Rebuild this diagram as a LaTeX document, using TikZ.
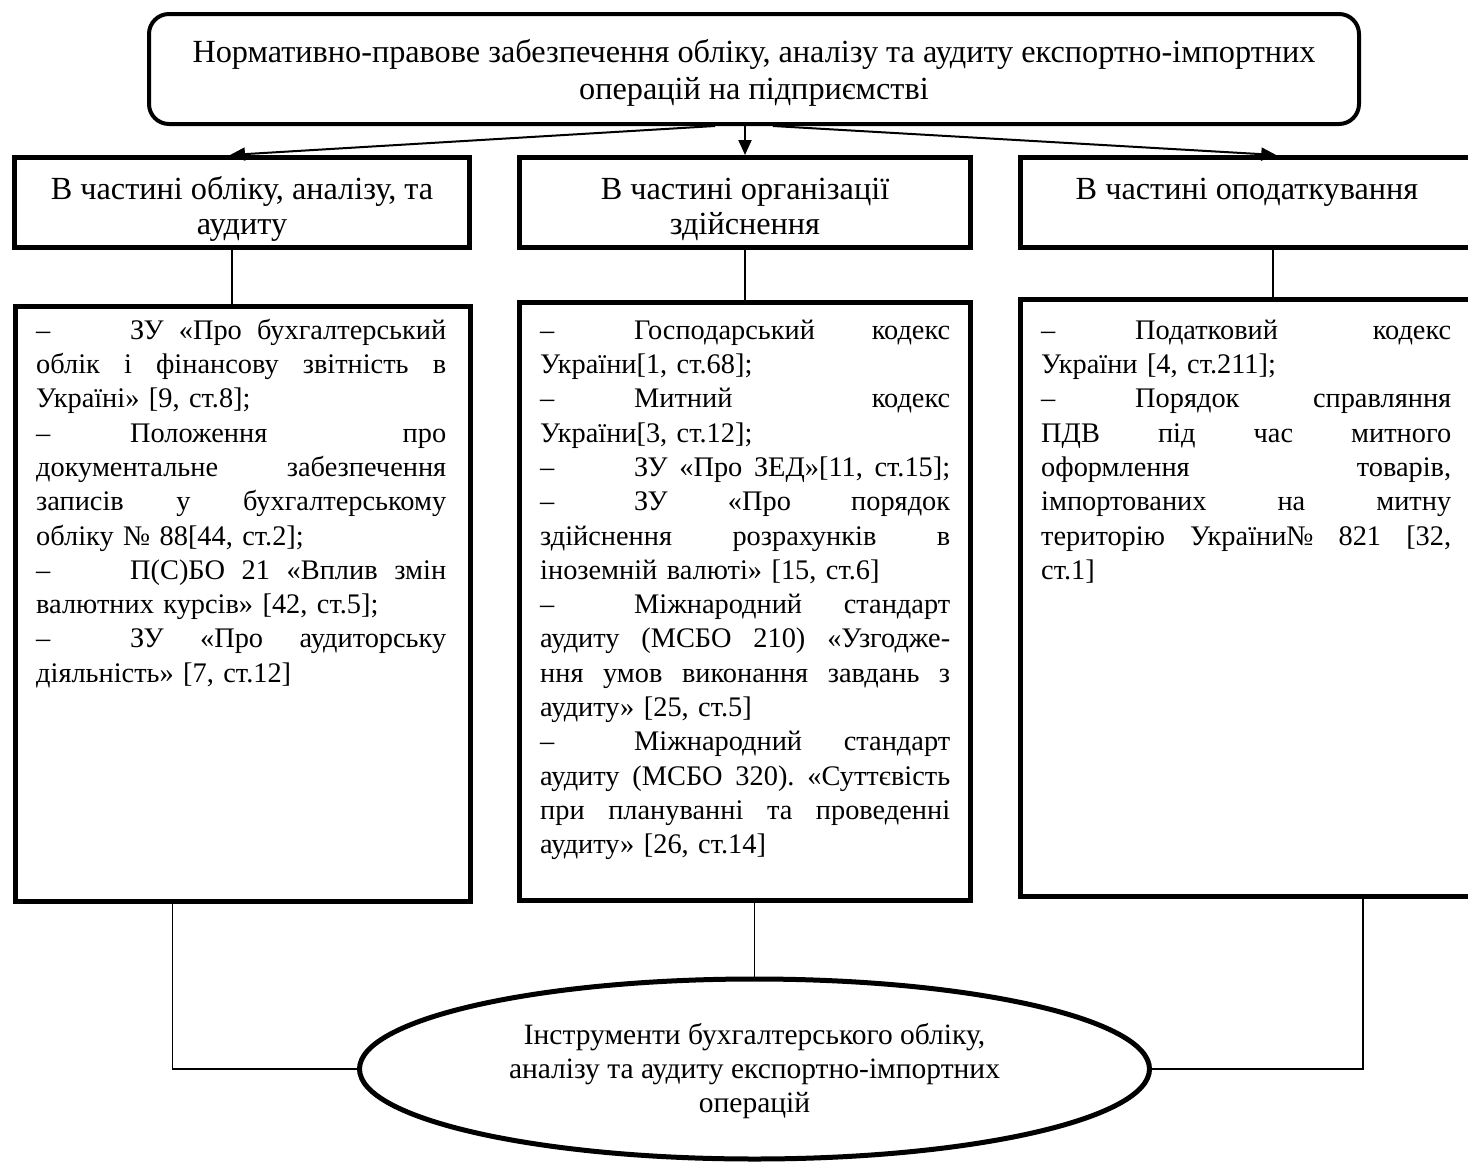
\documentclass[tikz,border=0pt]{standalone}
\usepackage{fontspec}
\setmainfont{Liberation Serif}
\usetikzlibrary{arrows.meta,shapes.geometric}
\newlength\calw
\newlength\calwa
\newlength\calwb
\newcommand\jl[1]{\leavevmode\hbox to 410pt{\spaceskip=0.25em plus 1fil minus 0.06em\relax #1}}
\newcommand\dsh{\makebox[94pt][l]{–}}
\newcommand\fnt[1]{\fontsize{\fs pt}{#1}\selectfont}
\newcommand\bfnt[1]{\fontsize{\bs pt}{#1}\selectfont}
\newcommand\efnt[1]{\fontsize{\es pt}{#1}\selectfont}
\begin{document}
\frenchspacing
\settowidth\calw{\fontsize{10pt}{12pt}\selectfont Нормативно-правове забезпечення обліку, аналізу та аудиту експортно-імпортних}%
\settowidth\calwa{\fontsize{10pt}{12pt}\selectfont України [4, ст.211];}%
\settowidth\calwb{\fontsize{10pt}{12pt}\selectfont аудиту (МСБО 320). «Суттєвість}%
\pgfmathsetmacro\fs{10*1123/\calw}%
\pgfmathsetmacro\bs{min(10*230/\calwa, 10*411/\calwb)}%
\settowidth\calw{\fontsize{10pt}{12pt}\selectfont аналізу та аудиту експортно-імпортних}%
\pgfmathsetmacro\es{10*491/\calw}%
\begin{tikzpicture}[x=1pt,y=-1pt,
  thickbox/.style={draw, line width=5pt, inner sep=0pt},
  conn/.style={line width=1.7pt},
  arr/.style={line width=2pt, -{Triangle[length=15pt,width=13pt]}},
  txt/.style={inner sep=0pt, align=center},
  body/.style={inner sep=0pt, text width=410pt, align=left, anchor=north west, font=\bfnt{34.3pt}},
]
\useasboundingbox (0,0) rectangle (1468,1162);

% top box
\node[draw, line width=4pt, rounded corners=20pt, minimum width=1210pt, minimum height=110pt, inner sep=0pt] (T) at (754,69) {};
\node[txt, anchor=north, font=\fnt{37pt}] (Tt) at (754,36.1) {\strut Нормативно-правове забезпечення обліку, аналізу та аудиту експортно-імпортних\\ операцій на підприємстві};

% header boxes
\node[thickbox, minimum width=455pt, minimum height=90pt] (H1) at (242,202.5) {};
\node[thickbox, minimum width=451pt, minimum height=90pt] (H2) at (745,202.5) {};
\node[thickbox, minimum width=469.5pt, minimum height=90pt] (H3) at (1255.25,202.5) {};
\node[txt, anchor=north, font=\fnt{35pt}] (H1t) at (242,174.5) {\strut В частині обліку, аналізу, та\\ аудиту};
\node[txt, anchor=north, font=\fnt{35pt}] (H2t) at (745,174.5) {\strut В частині організації\\ здійснення};
\node[txt, anchor=north, font=\fnt{35pt}] (H3t) at (1247,174.5) {\strut В частині оподаткування};

% lower boxes
\node[thickbox, minimum width=455pt, minimum height=595pt] (L1) at (242.5,603.5) {};
\node[thickbox, minimum width=451pt, minimum height=598pt] (L2) at (745,601) {};
\node[thickbox, minimum width=469.5pt, minimum height=597pt] (L3) at (1255.25,597.5) {};

\node[body] (B1) at (36,315) {\strut\jl{\dsh ЗУ «Про бухгалтерський}\\
\jl{облік і фінансову звітність в}\\
Україні» [9, ст.8];\\
\jl{\dsh Положення про}\\
\jl{документальне забезпечення}\\
\jl{записів у бухгалтерському}\\
обліку № 88[44, ст.2];\\
\jl{\dsh П(С)БО 21 «Вплив змін}\\
валютних курсів» [42, ст.5];\\
\jl{\dsh ЗУ «Про аудиторську}\\
діяльність» [7, ст.12]};

\node[body] (B2) at (540,315) {\strut\jl{\dsh Господарський кодекс}\\
України[1, ст.68];\\
\jl{\dsh Митний кодекс}\\
України[3, ст.12];\\
\jl{\dsh ЗУ «Про ЗЕД»[11, ст.15];}\\
\jl{\dsh ЗУ «Про порядок}\\
\jl{здійснення розрахунків в}\\
іноземній валюті» [15, ст.6]\\
\jl{\dsh Міжнародний стандарт}\\
\jl{аудиту (МСБО 210) «Узгодже-}\\
\jl{ння умов виконання завдань з}\\
аудиту» [25, ст.5]\\
\jl{\dsh Міжнародний стандарт}\\
\jl{аудиту (МСБО 320). «Суттєвість}\\
\jl{при плануванні та проведенні}\\
аудиту» [26, ст.14]};

\node[body] (B3) at (1041,315) {\strut\jl{\dsh Податковий кодекс}\\
України [4, ст.211];\\
\jl{\dsh Порядок справляння}\\
\jl{ПДВ під час митного}\\
\jl{оформлення товарів,}\\
\jl{імпортованих на митну}\\
\jl{територію України№ 821 [32,}\\
ст.1]};

% ellipse
\node[draw, ellipse, line width=5pt, minimum width=790pt, minimum height=180pt, inner sep=0pt] (E) at (754.5,1069) {};
\node[txt, anchor=north, font=\efnt{34pt}] (Et) at (754.5,1020.2) {\strut Інструменти бухгалтерського обліку,\\ аналізу та аудиту експортно-імпортних\\ операцій};

% arrows
\draw[arr] ([xshift=-39pt]T.south) -- ([xshift=-12pt]H1.north);
\draw[arr] ([xshift=-9pt]T.south) -- (H2.north);
\draw[arr] ([xshift=19pt]T.south) -- ([xshift=21pt]H3.north);

% connectors
\draw[conn] ([xshift=-10pt]H1.south) -- ([xshift=-10pt]H1.south |- L1.north);
\draw[conn] (H2.south) -- (L2.north);
\coordinate (c3) at ([xshift=18pt,yshift=-5pt]H3.south |- L3.north);
\draw[conn] ([xshift=18pt]H3.south) -- (c3);
\draw[conn] ([xshift=-70pt]L1.south) |- (E.west);
\draw[conn] ([xshift=9.5pt]L2.south) -- (E.north);
\draw[conn] ([xshift=108pt]L3.south) |- (E.east);
\end{tikzpicture}
\end{document}
